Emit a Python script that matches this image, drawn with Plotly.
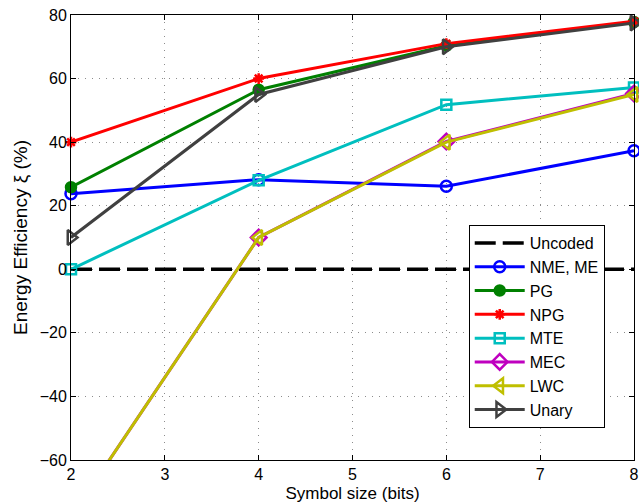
import plotly.graph_objects as go

# Symbol sizes (bits)
symbol_bits = [2, 4, 6, 8]

# Energy efficiency (%) per coding scheme
uncoded = [0, 0, 0, 0]
nme_me = [23.8, 28.2, 26.1, 37.3]
pg = [25.8, 56.5, 70.3, 77.8]
npg = [40.0, 60.0, 71.0, 78.0]
mte = [0.0, 28.0, 51.8, 57.2]
mec = [-78.0, 10.0, 40.2, 55.3]
lwc = [-78.0, 10.0, 40.0, 55.0]
unary = [10.0, 55.0, 70.0, 77.5]

x_ticks = [2, 3, 4, 5, 6, 7, 8]
y_ticks = [-60, -40, -20, 0, 20, 40, 60, 80]

series = [
    ("NME, ME", nme_me, "#0000ff", "circle-open", 11),
    ("PG", pg, "#008000", "circle", 10),
    ("NPG", npg, "#ff0000", "asterisk-open", 9),
    ("MTE", mte, "#00bfbf", "square-open", 10),
    ("MEC", mec, "#bf00bf", "diamond-open", 12),
    ("LWC", lwc, "#bfbf00", "triangle-left-open", 13),
    ("Unary", unary, "#404040", "triangle-right-open", 13),
]

FONT = "Liberation Sans, Arial"

fig = go.Figure()

fig.add_trace(go.Scatter(
    x=symbol_bits, y=uncoded, name="Uncoded", mode="lines",
    line=dict(color="black", width=3.5, dash="21px,7px"),
))

for name, vals, color, sym, size in series:
    fig.add_trace(go.Scatter(
        x=symbol_bits, y=vals, name=name, mode="lines+markers",
        line=dict(color=color, width=3),
        marker=dict(symbol=sym, size=size, color=color,
                    line=dict(color=color, width=2.5)),
        cliponaxis=False,
    ))

axis_common = dict(
    showline=True, linecolor="black", linewidth=1, mirror="allticks",
    ticks="inside", ticklen=5, tickcolor="black",
    showgrid=True, gridcolor="#8c8c8c", griddash="1px,6px", gridwidth=1,
    zeroline=False, ticklabeloverflow="allow", automargin=False,
    tickfont=dict(family=FONT, size=16, color="black"),
)

fig.update_xaxes(
    range=[2, 8], tickvals=x_ticks, ticktext=[str(v) for v in x_ticks],
    title=dict(text="Symbol size (bits)", standoff=9,
               font=dict(family=FONT, size=17, color="black")),
    **axis_common,
)
fig.update_yaxes(
    range=[-60, 80], tickvals=y_ticks,
    ticktext=[("\u2212" + str(-v)) if v < 0 else str(v) for v in y_ticks],
    title=dict(text="Energy Efficiency \u03be (%)", standoff=7,
               font=dict(family=FONT, size=19, color="black")),
    **axis_common,
)

fig.update_layout(
    width=639, height=503,
    margin=dict(l=71, r=5, t=15, b=43),
    paper_bgcolor="white", plot_bgcolor="white",
    showlegend=True,
    legend=dict(
        x=0.948, y=0.528, xanchor="right", yanchor="top",
        bgcolor="white", bordercolor="black", borderwidth=1,
        font=dict(family=FONT, size=16, color="black"),
        itemwidth=50,
    ),
)

fig.write_html("out.html")
